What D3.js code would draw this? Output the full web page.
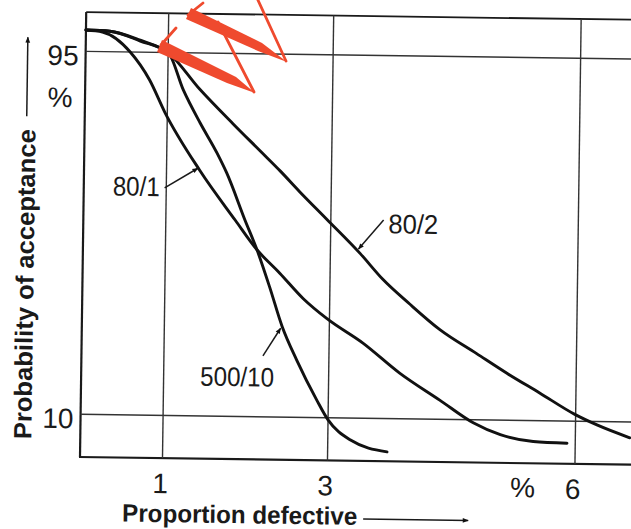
<!DOCTYPE html>
<html>
<head>
<meta charset="utf-8">
<script src="https://cdn.jsdelivr.net/npm/d3@7"></script>
<style>
  body { margin: 0; background: #fff; }
  svg { display: block; }
</style>
</head>
<body>
<div id="chart"></div>
<script>
const width = 631;
const height = 529;

// OC curves: [proportion defective %, probability of acceptance %]
const curve80_1 = [[0,100],[0.2,99.6],[0.54,95],[0.78,88.5],[0.97,81],[1.40,67.6],[1.84,56],[2.11,49.1],[2.39,43.7],[2.68,37.8],[2.97,33.2],[3.41,27.6],[3.86,20.7],[4.35,14.5],[4.76,9.3],[5.09,6.6],[5.49,5.1],[5.9,4.8]];
const curve80_2 = [[0,100],[0.29,99.8],[0.66,97.8],[1,95],[1.39,86.5],[1.80,78.5],[2.13,72.3],[2.38,67.6],[2.62,62.8],[2.95,56.5],[3.36,48.6],[3.64,42.6],[3.97,36.9],[4.34,31.0],[4.79,25.5],[5.16,21.0],[5.56,16.5],[5.99,11.6],[6.26,9.2],[6.66,6.3]];
const curve500_10 = [[0,100],[0.29,99.8],[0.66,97.6],[1,95],[1.19,86.3],[1.40,78.6],[1.61,71.6],[1.73,67.0],[1.96,56.0],[2.11,49.1],[2.27,40.4],[2.43,31.1],[2.61,23.4],[2.86,14.1],[3.0,9.5],[3.27,4.9],[3.72,2.2]];
const seriesNames = ["80/1", "80/2", "500/10"];
const xTicks = [1, 3, 6];
const yTicks = [95, 10];

const svg = d3.select('#chart')
  .append('svg')
  .attr('width', width)
  .attr('height', height)
  .style('background', '#fff');

svg.append('defs').append('marker')
  .attr('id', 'head')
  .attr('viewBox', '0 0 10 10')
  .attr('refX', 9).attr('refY', 5)
  .attr('markerWidth', 10).attr('markerHeight', 6)
  .attr('markerUnits', 'userSpaceOnUse')
  .attr('orient', 'auto')
  .append('path')
  .attr('d', 'M0,1 L10,5 L0,9 Z')
  .attr('fill', '#111');

const x = d3.scaleLinear().domain([0, 7]).range([80, 657.5]);
const y = d3.scaleLinear().domain([0, 100]).range([457, 30]);
const yTop = 104.2;

// the scanned page is tilted a little clockwise
const g = svg.append('g').attr('transform', 'rotate(0.8, 80, 457)');

const ink = '#1a1a1a';

// frame
g.append('line').attr('x1', x(0)).attr('x2', x(0)).attr('y1', y(0)).attr('y2', y(yTop))
  .attr('stroke', ink).attr('stroke-width', 2.2);
g.append('line').attr('x1', x(0) - 1).attr('x2', x(7)).attr('y1', y(0)).attr('y2', y(0))
  .attr('stroke', ink).attr('stroke-width', 2.2);
g.append('line').attr('x1', x(0)).attr('x2', x(7)).attr('y1', y(yTop)).attr('y2', y(yTop))
  .attr('stroke', ink).attr('stroke-width', 1.8);

// grid
g.selectAll('line.vgrid').data(xTicks).join('line')
  .attr('class', 'vgrid')
  .attr('x1', d => x(d)).attr('x2', d => x(d))
  .attr('y1', y(0)).attr('y2', y(yTop))
  .attr('stroke', '#333').attr('stroke-width', 1.4);
g.selectAll('line.hgrid').data(yTicks).join('line')
  .attr('class', 'hgrid')
  .attr('x1', x(0)).attr('x2', x(7))
  .attr('y1', d => y(d)).attr('y2', d => y(d))
  .attr('stroke', '#333').attr('stroke-width', 1.4);

// curves
const line = d3.line().x(d => x(d[0])).y(d => y(d[1])).curve(d3.curveMonotoneX);
g.selectAll('path.oc').data([curve80_1, curve80_2, curve500_10]).join('path')
  .attr('class', 'oc')
  .attr('d', line)
  .attr('fill', 'none')
  .attr('stroke', '#111')
  .attr('stroke-width', 2.9)
  .attr('stroke-linecap', 'round');

const numFont = '"Liberation Sans", Arial, sans-serif';

// y tick labels
g.selectAll('text.ytick').data(yTicks).join('text')
  .attr('class', 'ytick')
  .attr('x', 73).attr('y', d => y(d) + 14)
  .attr('text-anchor', 'end')
  .attr('font-family', numFont).attr('font-size', 28)
  .attr('fill', ink)
  .text(d => d);
g.append('text')
  .attr('x', 55).attr('y', y(95) + 56)
  .attr('text-anchor', 'middle')
  .attr('font-family', numFont).attr('font-size', 28)
  .attr('fill', ink)
  .text('%');

// x tick labels
g.selectAll('text.xtick').data(xTicks).join('text')
  .attr('class', 'xtick')
  .attr('x', d => x(d) - 2).attr('y', y(0) + 35)
  .attr('text-anchor', 'middle')
  .attr('font-family', numFont).attr('font-size', 28)
  .attr('fill', ink)
  .text(d => d);
g.append('text')
  .attr('x', x(6) - 52).attr('y', y(0) + 34)
  .attr('text-anchor', 'middle')
  .attr('font-family', numFont).attr('font-size', 28)
  .attr('fill', ink)
  .text('%');

// axis titles with arrows
g.append('text')
  .attr('x', 123).attr('y', 521)
  .attr('font-family', numFont).attr('font-size', 25).attr('font-weight', 'bold')
  .attr('textLength', 235).attr('lengthAdjust', 'spacingAndGlyphs')
  .attr('fill', ink)
  .text('Proportion defective');
g.append('line')
  .attr('x1', 364).attr('x2', 469).attr('y1', 515).attr('y2', 515)
  .attr('stroke', ink).attr('stroke-width', 1.5)
  .attr('marker-end', 'url(#head)');

g.append('text')
  .attr('transform', 'translate(31, 285) rotate(-90)')
  .attr('text-anchor', 'middle')
  .attr('font-family', numFont).attr('font-size', 25).attr('font-weight', 'bold')
  .attr('textLength', 310).attr('lengthAdjust', 'spacingAndGlyphs')
  .attr('fill', ink)
  .text('Probability of acceptance');
g.append('line')
  .attr('x1', 22).attr('x2', 22).attr('y1', 117).attr('y2', 38)
  .attr('stroke', ink).attr('stroke-width', 1.5)
  .attr('marker-end', 'url(#head)');

// curve labels: text position, text width, arrow tail and tip (data units)
const labelPos = [[109, 195, 47], [385, 229, 50], [199, 384, 74]];
const labelArrows = [
  [[0.98, 63.3], [1.38, 68.0]],
  [[3.64, 56.5], [3.34, 49.6]],
  [[2.20, 24.3], [2.41, 30.8]]
];
g.selectAll('text.series').data(seriesNames).join('text')
  .attr('class', 'series')
  .attr('x', (d, i) => labelPos[i][0]).attr('y', (d, i) => labelPos[i][1])
  .attr('font-family', numFont).attr('font-size', 27)
  .attr('textLength', (d, i) => labelPos[i][2]).attr('lengthAdjust', 'spacingAndGlyphs')
  .attr('fill', ink)
  .text(d => d);
g.selectAll('line.pointer').data(labelArrows).join('line')
  .attr('class', 'pointer')
  .attr('x1', d => x(d[0][0])).attr('y1', d => y(d[0][1]))
  .attr('x2', d => x(d[1][0])).attr('y2', d => y(d[1][1]))
  .attr('stroke', ink).attr('stroke-width', 1.5)
  .attr('marker-end', 'url(#head)');

// red pen mark across the top of the scan (page pixels, not data)
const red = '#ef4a2e';
const mark = svg.append('g').attr('class', 'redmark');
mark.append('polygon')
  .attr('points', '162,40 236,77 255,93 227,83 157,52')
  .attr('fill', red);
mark.append('polygon')
  .attr('points', '191,8 262,43 287,62 258,51 186,19')
  .attr('fill', red);
mark.append('path')
  .attr('d', 'M254,92 L218,22 M286,61 L257,-2 M161,45 L176,28 M188,15 L203,3')
  .attr('fill', 'none')
  .attr('stroke', red)
  .attr('stroke-width', 2.8)
  .attr('stroke-linecap', 'round');
</script>
</body>
</html>
